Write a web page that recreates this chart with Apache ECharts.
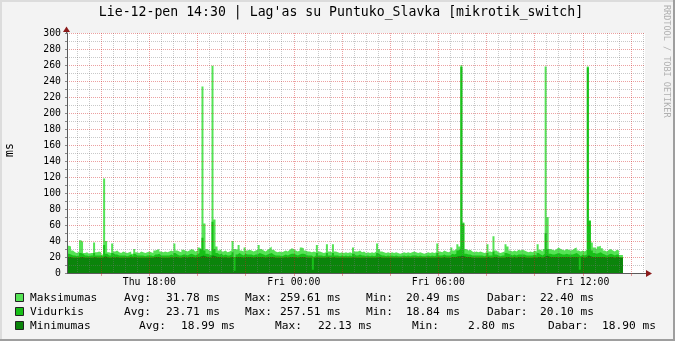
<!DOCTYPE html>
<html><head><meta charset="utf-8">
<script src="https://cdn.jsdelivr.net/npm/echarts@6/dist/echarts.min.js"></script>
<style>html,body{margin:0;padding:0;background:#f3f3f3}#c{width:675px;height:341px}</style>
</head><body><div id="c"></div><script>
// ---- data ----
const START_MIN = 875;      // Thu 14:35 (minutes since Thu 00:00)
const STEP_MIN = 5;
const SLOT_COUNT = 288;     // 24 h of 5-minute slots
const xLabelTimes = ['Thu 18:00', 'Fri 00:00', 'Fri 06:00', 'Fri 12:00'];
const titleText = "Lie-12-pen 14:30 | Lag'as su Puntuko_Slavka [mikrotik_switch]";
const yAxisName = 'ms';
const watermark = 'RRDTOOL / TOBI OETIKER';

const maxVals = [
34,33,28,26,25,27,41,39,25,26, 24,25,25,38,26,27,26,23,118,40,
26,25,37,27,28,26,25,27,26,25, 26,27,24,30,26,25,27,26,25,26,
27,26,25,28,29,30,27,26,27,26, 27,28,27,37,28,27,26,29,28,27,
28,30,29,27,28,32,30,233,62,30, 28,27,259,67,33,28,30,27,28,26,
27,28,40,30,29,35,28,27,32,28, 29,28,27,28,29,35,30,28,27,29,
31,33,29,27,26,27,26,27,28,27, 29,31,30,28,27,28,32,31,28,27,
27,26,27,26,35,27,26,25,26,36, 27,26,36,27,26,25,26,25,26,25,
26,25,32,27,27,28,26,27,25,26, 25,26,25,27,37,30,27,26,25,26,
25,26,25,26,25,24,25,26,25,26, 25,26,27,26,25,26,25,24,25,26,
25,26,25,26,37,27,26,28,27,26, 27,32,28,30,36,33,259.61,63,30,28,
29,27,26,27,26,27,26,25,26,36, 27,26,46,28,26,25,26,27,36,33,
28,27,28,27,29,28,29,28,27,26, 27,26,28,27,36,29,27,30,258,70,
30,29,28,30,32,30,29,28,30,29, 28,29,31,32,28,27,28,27,29,258,
66,38,32,30,33,34,31,28,27,29, 30,28,27,29,28,22.4
];
const avgVals = [
24,23,22,22,21,22,25,24,22,22, 21,22,22,25,22,22,22,21,35,24,
22,22,25,23,23,22,22,22,22,21, 22,23,21,24,22,22,22,22,21,22,
22,22,21,23,23,24,22,22,22,22, 22,23,22,25,23,22,22,23,23,22,
23,24,23,22,23,25,30,44,28,24, 23,22,64,30,25,23,24,22,23,22,
22,23,26,20,23,25,23,22,24,23, 23,23,22,23,23,25,24,23,22,23,
24,25,23,22,22,22,21,22,23,22, 23,24,24,23,22,23,24,24,23,22,
22,22,20,22,25,22,22,21,22,25, 22,22,25,22,22,21,22,21,22,21,
22,21,24,22,22,23,22,22,21,22, 21,22,21,22,25,23,22,22,21,22,
21,22,21,22,21,21,21,22,21,22, 21,22,22,22,21,22,21,21,21,22,
21,22,21,22,25,22,22,23,22,22, 22,24,23,24,28,30,257.51,62,24,23,
23,22,22,22,22,22,22,21,22,25, 22,22,27,23,22,21,22,22,25,24,
23,22,23,22,23,23,23,23,22,22, 22,22,23,22,25,23,22,24,50,30,
24,23,23,24,25,24,23,23,24,23, 23,23,24,25,23,21,23,22,23,257,
65,28,25,24,25,26,24,23,22,23, 24,23,22,23,23,20.1
];
const minVals = [
20,20,19,19,19,19,20,20,19,19, 19,19,19,20,19,19,19,19,21,20,
19,19,20,19,20,19,19,19,19,19, 19,20,19,20,19,19,19,19,19,19,
19,19,19,20,20,20,19,19,19,19, 19,20,19,20,20,19,19,20,20,19,
20,20,20,19,20,20,21,22,21,20, 20,19,22,21,20,20,20,19,20,19,
19,20,20,2.8,20,20,20,19,20,20, 20,20,19,20,20,20,20,20,19,20,
20,20,20,19,19,19,19,19,20,19, 20,20,20,20,19,20,20,20,20,19,
19,19,4,19,20,19,19,19,19,20, 19,19,20,19,19,19,19,19,19,19,
19,19,20,19,19,19,19,19,19,19, 19,19,19,19,20,20,19,19,19,19,
19,19,19,19,19,19,19,19,19,19, 19,19,19,19,19,19,19,19,19,19,
19,19,19,19,20,19,19,20,19,19, 19,20,20,20,21,21,22,21,20,20,
20,19,19,19,19,19,19,19,19,20, 19,19,20,20,19,19,19,19,20,20,
20,19,20,19,20,20,20,20,19,19, 19,19,20,19,20,20,19,20,22,21,
20,20,20,20,20,20,20,20,20,20, 20,20,20,20,20,4,20,19,20,22.13,
21,20,20,20,20,20,20,20,19,20, 20,20,19,20,20,18.9
];

const seriesNames = ['Maksimumas', 'Vidurkis', 'Minimumas'];
const statAvg = ['31.78 ms', '23.71 ms', '18.99 ms'];
const statMax = ['259.61 ms', '257.51 ms', '22.13 ms'];
const statMin = ['20.49 ms', '18.84 ms', '2.80 ms'];
const statNow = ['22.40 ms', '20.10 ms', '18.90 ms'];

// ---- styles / layout ----
const colors = ['#55e355', '#18c018', '#0b840b'];
const MONO = "'DejaVu Sans Mono', monospace";
const GRID_RED = 'rgba(210,30,30,0.42)';
const GRID_GRAY = 'rgba(120,120,120,0.40)';
const AXIS_COL = '#5a5a5a';
const ARROW_COL = '#8b1a1a';
const G = {left: 67, top: 33, width: 578, height: 240};
const legendRowY = [298, 312, 326];
const legendColX = [
  [124, 166, 245, 280, 366, 406, 487, 540],
  [124, 166, 245, 280, 366, 406, 487, 540],
  [139, 181, 275, 318, 412, 468, 548, 602]
];

const cats = [];
for (let k = 0; k <= SLOT_COUNT; k++) {
  const m = START_MIN + k * STEP_MIN;
  const day = m < 1440 ? 'Thu' : 'Fri';
  const mm = m % 1440;
  cats.push(day + ' ' + String(Math.floor(mm / 60)).padStart(2, '0') + ':' + String(mm % 60).padStart(2, '0'));
}
const minuteOf = i => (START_MIN + i * STEP_MIN) % 1440;
function toStep(arr) {
  const d = arr.slice();
  d.push(arr[arr.length - 1]);
  while (d.length <= SLOT_COUNT) d.push(null);
  return d;
}

const chart = echarts.init(document.getElementById('c'), null, {renderer: 'canvas'});

const graphics = [];
graphics.push({type: 'rect', shape: {x: 0, y: 0, width: 675, height: 2}, style: {fill: '#dcdcdc'}, silent: true});
graphics.push({type: 'rect', shape: {x: 0, y: 0, width: 2, height: 341}, style: {fill: '#dcdcdc'}, silent: true});
graphics.push({type: 'rect', shape: {x: 0, y: 339, width: 675, height: 2}, style: {fill: '#9e9e9e'}, silent: true});
graphics.push({type: 'rect', shape: {x: 673, y: 0, width: 2, height: 341}, style: {fill: '#9e9e9e'}, silent: true});
graphics.push({type: 'text', x: 341, y: 13, style: {text: titleText, font: '13.2px ' + MONO, fill: '#000', align: 'center', verticalAlign: 'middle'}, silent: true});
graphics.push({type: 'text', x: 10, y: 150, rotation: Math.PI / 2, style: {text: yAxisName, font: '11.5px ' + MONO, fill: '#000', align: 'center', verticalAlign: 'middle'}, silent: true});
graphics.push({type: 'text', x: 666, y: 5, rotation: -Math.PI / 2, style: {text: watermark, font: '8.5px ' + MONO, fill: '#b0b0b0', align: 'left', verticalAlign: 'middle'}, silent: true});
graphics.push({type: 'line', shape: {x1: 66.5, y1: 31, x2: 66.5, y2: 33}, style: {stroke: AXIS_COL, lineWidth: 1}, silent: true, z: 10});
graphics.push({type: 'line', shape: {x1: 645, y1: 273.5, x2: 647, y2: 273.5}, style: {stroke: AXIS_COL, lineWidth: 1}, silent: true, z: 10});
graphics.push({type: 'polygon', shape: {points: [[66.5, 26.5], [63, 32], [70, 32]]}, style: {fill: ARROW_COL}, silent: true, z: 10});
graphics.push({type: 'polygon', shape: {points: [[652, 273.5], [646, 270], [646, 277]]}, style: {fill: ARROW_COL}, silent: true, z: 10});
for (let r = 0; r < 3; r++) {
  const y = legendRowY[r];
  graphics.push({type: 'rect', shape: {x: 15.5, y: y - 4.5, width: 8, height: 8}, style: {fill: colors[r], stroke: '#222', lineWidth: 1}, silent: true});
  const parts = [seriesNames[r], 'Avg:', statAvg[r], 'Max:', statMax[r], 'Min:', statMin[r], 'Dabar:', statNow[r]];
  const xs = [30].concat(legendColX[r]);
  parts.forEach((t, j) => {
    graphics.push({type: 'text', x: xs[j], y: y, style: {text: t, font: '11.2px ' + MONO, fill: '#000', align: 'left', verticalAlign: 'middle'}, silent: true});
  });
}

const option = {
  animation: false,
  backgroundColor: '#f3f3f3',
  grid: {left: G.left, top: G.top, width: G.width, height: G.height, show: true, backgroundColor: '#ffffff', borderWidth: 0, containLabel: false},
  xAxis: [
    {
      type: 'category', data: cats, boundaryGap: false, z: 5,
      axisLine: {show: true, lineStyle: {color: AXIS_COL, width: 1}},
      axisTick: {show: true, length: 3, interval: (i) => minuteOf(i) % 120 === 0, lineStyle: {color: GRID_RED}},
      axisLabel: {show: true, interval: (i, v) => xLabelTimes.indexOf(v) >= 0, fontFamily: MONO, fontSize: 9.8, color: '#000', margin: 4},
      splitLine: {show: true, interval: (i) => minuteOf(i) % 120 === 0, lineStyle: {color: GRID_RED, type: [1, 1], width: 1}}
    },
    {
      type: 'category', data: cats, boundaryGap: false, z: 4, position: 'bottom',
      axisLine: {show: false}, axisTick: {show: false}, axisLabel: {show: false},
      splitLine: {show: true, interval: (i) => minuteOf(i) % 30 === 0 && minuteOf(i) % 120 !== 0, lineStyle: {color: GRID_GRAY, type: [1, 1], width: 1}}
    }
  ],
  yAxis: {
    type: 'value', min: 0, max: 300, interval: 10, z: 5,
    axisLine: {show: true, lineStyle: {color: AXIS_COL, width: 1}},
    axisTick: {show: true, length: 2, lineStyle: {color: '#888'}},
    axisLabel: {formatter: v => (v % 20 === 0 ? String(v) : ''), fontFamily: MONO, fontSize: 9.8, color: '#000', margin: 6},
    splitLine: {show: true, lineStyle: {color: [GRID_RED, GRID_GRAY], type: [1, 1], width: 1}}
  },
  series: [maxVals, avgVals, minVals].map((arr, j) => ({
    type: 'line', name: seriesNames[j], xAxisIndex: 0, step: 'end', data: toStep(arr),
    symbol: 'none', showSymbol: false, silent: true, connectNulls: false, z: 2,
    lineStyle: {width: 0, opacity: 0},
    areaStyle: {color: colors[j], opacity: 1}
  })),
  graphic: graphics
};
chart.setOption(option);
</script></body></html>
